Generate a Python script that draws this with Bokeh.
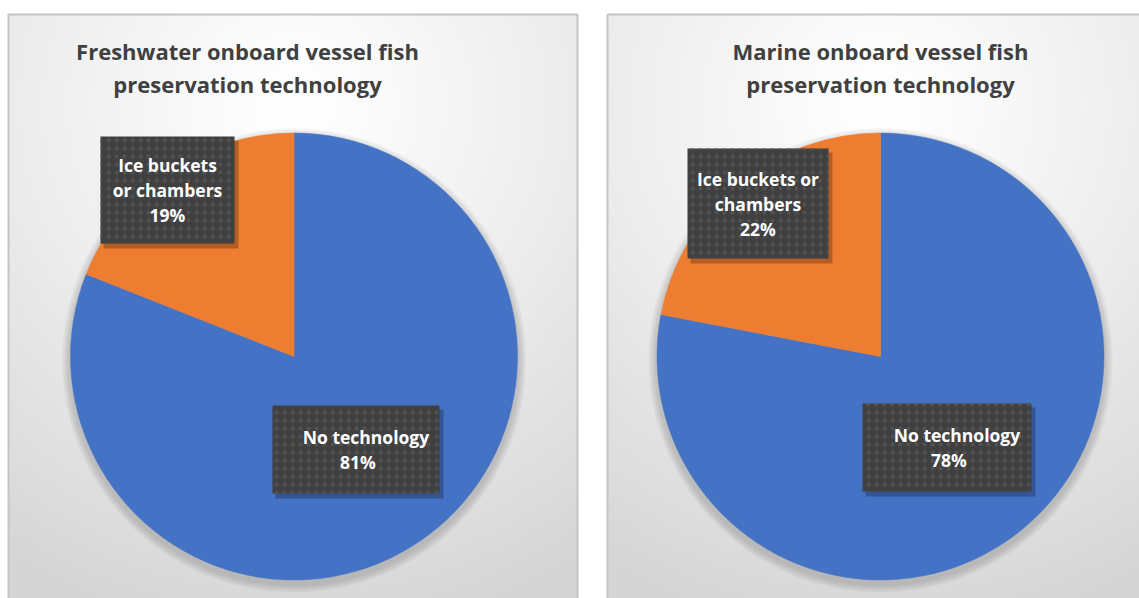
import numpy as np
from bokeh.plotting import figure
from bokeh.models import Range1d
from bokeh.core.properties import value
from bokeh.embed import file_html
from bokeh.resources import INLINE

# ---- data ----
titles = [["Freshwater onboard vessel fish", "preservation technology"],
          ["Marine onboard vessel fish", "preservation technology"]]
categories = ["No technology", "Ice buckets or chambers"]
freshwater = [81, 19]
marine = [78, 22]
colors = ["#4472C4", "#ED7D31"]
# label line breaks as in the reference
label_lines = [
    [["No technology"], ["Ice buckets", "or chambers"]],
    [["No technology"], ["Ice buckets or", "chambers"]],
]

W, H = 1139, 598
FONT = "Open Sans"

p = figure(width=W, height=H, x_range=Range1d(0, W), y_range=Range1d(0, H),
           x_axis_type=None, y_axis_type=None, toolbar_location=None,
           output_backend="svg", min_border=0)
p.grid.visible = False
p.outline_line_color = None
p.background_fill_color = "white"
p.border_fill_color = "white"

def Y(y):
    return H - y

# panels: (left, right, top)
panels = [(8, 577, 14), (607, 1150, 14)]
pies = [(293.5, 356, 223.5), (880, 356, 223.5)]
series = [freshwater, marine]
title_cx = [247, 880]
title_y = [50, 83]
# label boxes (left, right, top, bottom) per panel, per category
boxes = [
    [(272, 439, 405, 493), (100, 234, 136, 243)],
    [(862, 1031, 403, 491), (687, 828, 148, 258)],
]
line_h = 25

for i, (l, r, t) in enumerate(panels):
    bottom = H + 10
    pw, ph = int(r - l), int(bottom - t)
    yy, xx = np.mgrid[0:ph, 0:pw]
    ytop = ph - 1 - yy
    cx = pies[i][0] - l
    d = np.sqrt((xx - cx) ** 2 + ((ytop - 90) * 1.0) ** 2)
    v = 255 - 42 * np.clip(d / 540.0, 0, 1) ** 1.2
    v = v.astype(np.uint32)
    img = (255 << 24) | (v << 16) | (v << 8) | v
    p.image_rgba(image=[img.astype(np.uint32)], x=l, y=Y(bottom), dw=pw, dh=ph)
    p.quad(left=l, right=r, top=Y(t), bottom=Y(bottom), fill_color=None,
           line_color="#c4c4c4", line_width=2)

    # titles
    for k, line in enumerate(titles[i]):
        p.text(x=title_cx[i], y=Y(title_y[k]), text=[line], text_align="center",
               text_baseline="middle", text_font=value(FONT), text_font_style="bold",
               text_font_size="22px", text_color="#404040")

    px, py, pr = pies[i]
    # soft shadow
    for s in range(8):
        p.circle(x=px, y=Y(py) - 4, radius=pr + 9 - s, fill_color="black",
                 fill_alpha=0.018, line_color=None)

    vals = series[i]
    total = float(sum(vals))
    start = np.pi / 2
    for j, v_ in enumerate(vals):
        end = start - 2 * np.pi * v_ / total
        p.wedge(x=px, y=Y(py), radius=pr, start_angle=start, end_angle=end,
                direction="clock", fill_color=colors[j], line_color=colors[j],
                line_width=0.5)
        start = end

    # data labels
    for j in range(len(vals)):
        bl, br, bt, bb = boxes[i][j]
        p.quad(left=bl + 3, right=br + 4, top=Y(bt + 4), bottom=Y(bb + 5),
               fill_color="black", fill_alpha=0.25, line_color=None)
        p.quad(left=bl, right=br, top=Y(bt), bottom=Y(bb), fill_color="#404040",
               line_color=None, hatch_pattern="dot", hatch_color="#525252",
               hatch_scale=8, hatch_weight=1.6)
        lines = label_lines[i][j] + ["%d%%" % vals[j]]
        n = len(lines)
        cy = (bt + bb) / 2.0
        bx = (bl + br) / 2.0
        for k, line in enumerate(lines):
            ly = cy + (k - (n - 1) / 2.0) * line_h
            off = 0
            if j == 0:
                off = 10 if k == 0 else 2
            p.text(x=bx + off, y=Y(ly), text=[line], text_align="center",
                   text_baseline="middle", text_font=value(FONT),
                   text_font_style="bold", text_font_size="17.5px",
                   text_color="white")

open("out.html", "w").write(file_html(p, INLINE))
